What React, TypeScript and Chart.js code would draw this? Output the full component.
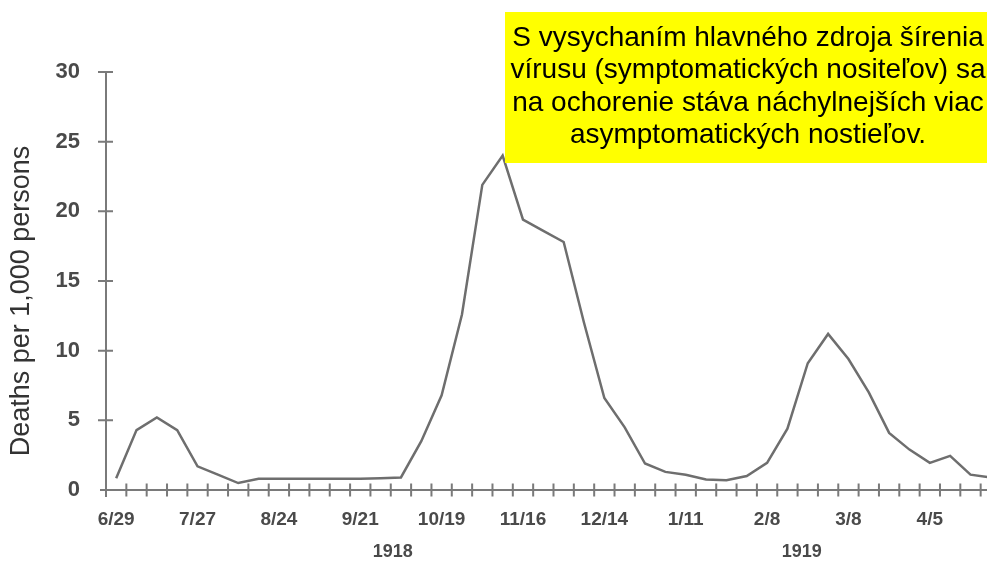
import React, { useEffect, useRef } from "react";
import { Chart, registerables } from "chart.js";

Chart.register(...registerables);

// ---- data ----
const weekLabels = [
  "6/29", "7/6", "7/13", "7/20", "7/27", "8/3", "8/10", "8/17", "8/24", "8/31",
  "9/7", "9/14", "9/21", "9/28", "10/5", "10/12", "10/19", "10/26", "11/2", "11/9",
  "11/16", "11/23", "11/30", "12/7", "12/14", "12/21", "12/28", "1/4", "1/11", "1/18",
  "1/25", "2/1", "2/8", "2/15", "2/22", "3/1", "3/8", "3/15", "3/22", "3/29",
  "4/5", "4/12", "4/19", "4/26",
];
const deathsPer1000 = [
  0.85, 4.3, 5.2, 4.3, 1.7, 1.1, 0.5, 0.8, 0.8, 0.8,
  0.8, 0.8, 0.8, 0.85, 0.9, 3.5, 6.8, 12.6, 21.9, 24.0,
  19.4, 18.6, 17.8, 12.0, 6.6, 4.5, 1.9, 1.3, 1.1, 0.75,
  0.7, 1.0, 1.95, 4.4, 9.1, 11.2, 9.4, 7.0, 4.1, 2.9,
  1.95, 2.45, 1.1, 0.9,
];
const labelEvery = 4;
const yMin = 0;
const yMax = 30;
const yStep = 5;
const yearLabels = ["1918", "1919"];
const yearCenters = [13.6, 33.7]; // position along the week axis (category index)
const yAxisTitle = "Deaths per 1,000 persons";
const noteLines = [
  "S vysychaním hlavného zdroja šírenia",
  "vírusu (symptomatických nositeľov) sa",
  "na ochorenie stáva náchylnejších viac",
  "asymptomatických nostieľov.",
];

const FONT = '"Liberation Sans", Arial, sans-serif';
const AXIS_COLOR = "#7a7a7a";
const TEXT_COLOR = "#4a4a4a";
const LINE_COLOR = "#6e6e6e";

const decorPlugin = {
  id: "decor",
  afterDraw(chart: any) {
    const ctx = chart.ctx as CanvasRenderingContext2D;
    const xs = chart.scales.x;
    const ys = chart.scales.y;
    const { left, top, bottom } = chart.chartArea;
    ctx.save();

    // axes lines
    ctx.strokeStyle = AXIS_COLOR;
    ctx.lineWidth = 2;
    ctx.beginPath();
    ctx.moveTo(left - 6, bottom);
    ctx.lineTo(chart.width, bottom);
    ctx.moveTo(left, top);
    ctx.lineTo(left, bottom + 7);
    ctx.stroke();

    // crossing tick marks
    ctx.beginPath();
    for (let i = 0; i <= weekLabels.length; i++) {
      const px = xs.getPixelForValue(i - 0.5);
      ctx.moveTo(px, bottom - 6.5);
      ctx.lineTo(px, bottom + 6.5);
    }
    for (let v = yMin + yStep; v <= yMax; v += yStep) {
      const py = ys.getPixelForValue(v);
      ctx.moveTo(left - 8, py);
      ctx.lineTo(left + 7, py);
    }
    ctx.stroke();

    // year labels
    ctx.fillStyle = TEXT_COLOR;
    ctx.font = `bold 18px ${FONT}`;
    ctx.textAlign = "center";
    ctx.textBaseline = "middle";
    yearLabels.forEach((t, i) => {
      ctx.fillText(t, xs.getPixelForValue(yearCenters[i]), 552);
    });

    // y axis title
    ctx.save();
    ctx.translate(22, 301);
    ctx.rotate(-Math.PI / 2);
    ctx.fillStyle = "#333333";
    ctx.font = `27px ${FONT}`;
    ctx.fillText(yAxisTitle, 0, 0);
    ctx.restore();

    // note box
    ctx.fillStyle = "#ffff00";
    ctx.fillRect(505, 12, chart.width - 505, 151);
    ctx.fillStyle = "#000000";
    ctx.font = `28px ${FONT}`;
    ctx.textAlign = "center";
    ctx.textBaseline = "middle";
    noteLines.forEach((line, i) => {
      ctx.fillText(line, 748, 38 + i * 32.5);
    });

    ctx.restore();
  },
};

export default function App() {
  const canvasRef = useRef<HTMLCanvasElement | null>(null);

  useEffect(() => {
    const canvas = canvasRef.current;
    if (!canvas) return;
    const chart = new Chart(canvas, {
      type: "line",
      data: {
        labels: weekLabels,
        datasets: [
          {
            data: deathsPer1000,
            borderColor: LINE_COLOR,
            borderWidth: 2.5,
            pointRadius: 0,
            tension: 0,
            fill: false,
          },
        ],
      },
      options: {
        animation: false,
        responsive: false,
        devicePixelRatio: 1,
        layout: { padding: { left: 0, top: 72, right: 9, bottom: 0 } },
        plugins: {
          legend: { display: false },
          tooltip: { enabled: false },
          title: { display: false },
        },
        scales: {
          x: {
            type: "category",
            offset: true,
            grid: { display: false, offset: true },
            border: { display: false },
            afterFit: (scale: any) => {
              scale.height = 71;
            },
            ticks: {
              autoSkip: false,
              maxRotation: 0,
              minRotation: 0,
              padding: 10,
              color: TEXT_COLOR,
              font: { family: FONT, size: 19, weight: "bold" },
              callback: (_v: any, idx: number) =>
                idx % labelEvery === 0 ? weekLabels[idx] : "",
            },
          },
          y: {
            min: yMin,
            max: yMax,
            grid: { display: false },
            border: { display: false },
            afterFit: (scale: any) => {
              scale.width = 106;
            },
            ticks: {
              stepSize: yStep,
              padding: 18,
              color: TEXT_COLOR,
              font: { family: FONT, size: 22, weight: "bold" },
            },
          },
        },
      },
      plugins: [decorPlugin],
    });
    return () => chart.destroy();
  }, []);

  return (
    <div
      style={{
        position: "absolute",
        left: 0,
        top: 0,
        width: 987,
        height: 561,
        overflow: "hidden",
        background: "#ffffff",
      }}
    >
      <canvas
        ref={canvasRef}
        width={1010}
        height={561}
        style={{ display: "block", width: 1010, height: 561 }}
      />
    </div>
  );
}
